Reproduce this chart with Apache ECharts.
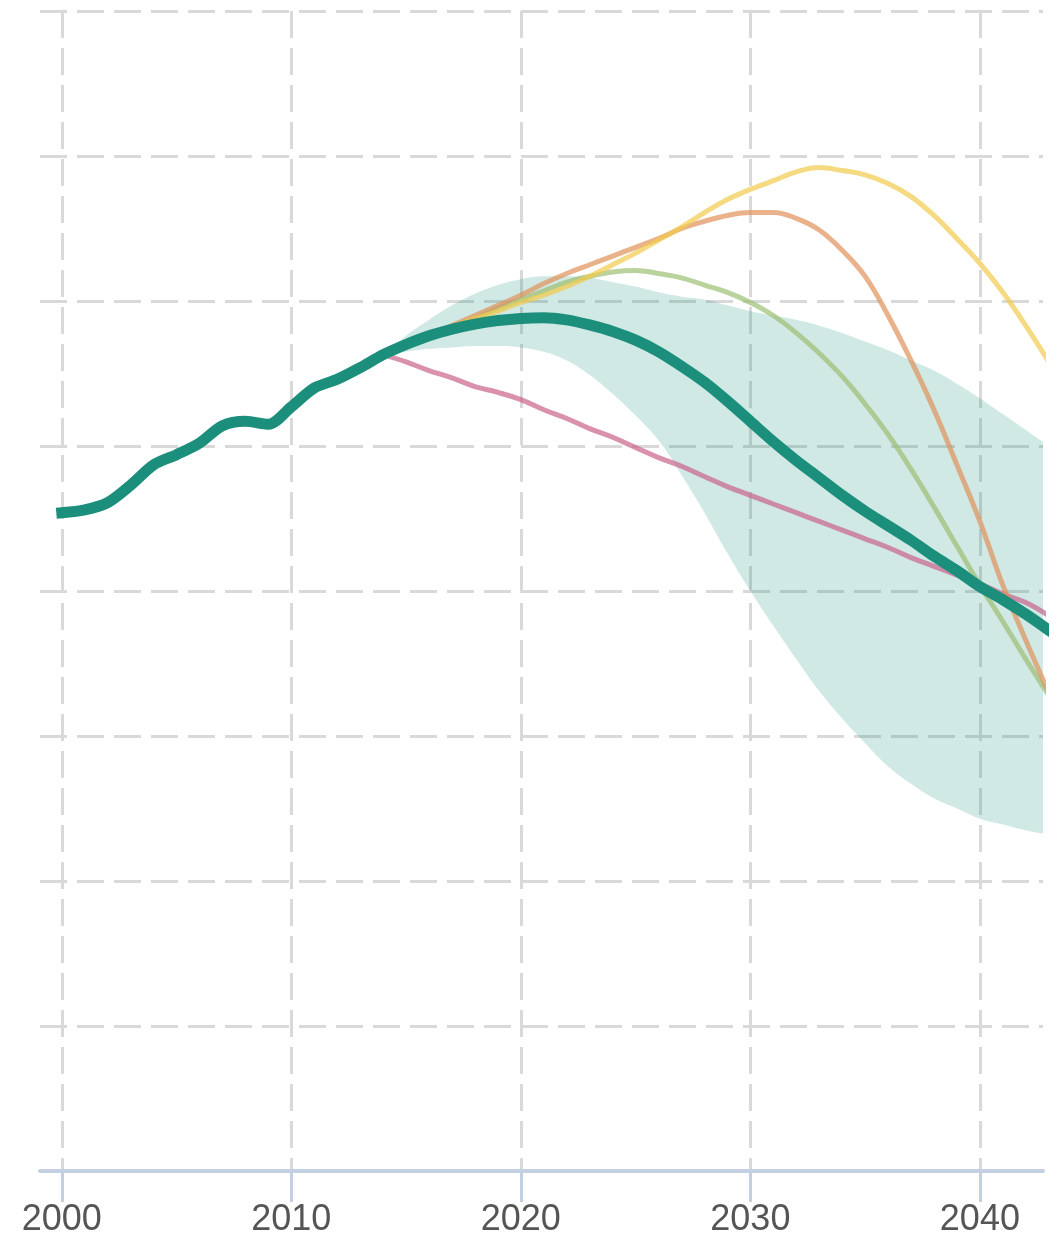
<!DOCTYPE html>
<html>
<head>
<meta charset="utf-8">
<title>Emissions pathways</title>
<script src="https://cdn.jsdelivr.net/npm/echarts@6/dist/echarts.min.js"></script>
<style>
    html, body { margin: 0; padding: 0; background: #fff; }
    #chart { width: 1059px; height: 1235px; }
</style>
</head>
<body>
<div id="chart"></div>
<script>
// years on the x axis
var years = [2000, 2001, 2002, 2003, 2004, 2005, 2006, 2007, 2008, 2009,
             2010, 2011, 2012, 2013, 2014, 2015, 2016, 2017, 2018, 2019,
             2020, 2021, 2022, 2023, 2024, 2025, 2026, 2027, 2028, 2029,
             2030, 2031, 2032, 2033, 2034, 2035, 2036, 2037, 2038, 2039,
             2040, 2041, 2042, 2043];
var xTicks = [2000, 2010, 2020, 2030, 2040];

// main pathway (history + median), from 2000
var mainLine = [45.4, 45.6, 46.1, 47.3, 48.7, 49.4, 50.2, 51.4, 51.7, 51.5,
                52.7, 54.0, 54.6, 55.4, 56.3, 57.0, 57.6, 58.05, 58.4, 58.65,
                58.8, 58.85, 58.7, 58.35, 57.9, 57.3, 56.5, 55.5, 54.4, 53.1,
                51.7, 50.3, 49.0, 47.8, 46.6, 45.5, 44.5, 43.5, 42.4, 41.4,
                40.3, 39.4, 38.4, 37.3];

// uncertainty band, from 2014
var bandLow  = [56.2, 56.5, 56.7, 56.8, 56.9, 56.9, 56.8, 56.5, 55.9, 54.9,
                53.6, 52.1, 50.4, 48.0, 45.4, 42.6, 40.0, 37.6, 35.3, 33.1,
                31.2, 29.5, 27.9, 26.7, 25.7, 25.0, 24.3, 23.9, 23.5, 23.2];
var bandHigh = [56.3, 57.6, 58.7, 59.7, 60.5, 61.1, 61.5, 61.7, 61.7, 61.6,
                61.3, 61.0, 60.6, 60.3, 60.1, 59.7, 59.3, 59.0, 58.7, 58.3,
                57.8, 57.2, 56.6, 55.9, 55.2, 54.3, 53.3, 52.2, 51.1, 50.0];

// scenario lines, from 2015 (pink from 2014)
var yellowLine = [57.0, 57.6, 58.2, 58.8, 59.3, 59.9, 60.4, 61.0, 61.7, 62.5,
                  63.3, 64.2, 65.1, 66.1, 67.0, 67.7, 68.3, 68.9, 69.2, 69.0,
                  68.7, 68.1, 67.2, 65.9, 64.3, 62.6, 60.6, 58.3, 55.8];
var orangeLine = [57.0, 57.6, 58.3, 59.0, 59.7, 60.4, 61.2, 61.9, 62.5, 63.1,
                  63.7, 64.3, 65.0, 65.5, 65.9, 66.1, 66.1, 65.7, 64.9, 63.5,
                  61.7, 59.0, 55.9, 52.5, 48.7, 44.8, 40.4, 36.6, 33.0];
var oliveLine  = [57.0, 57.6, 58.2, 58.8, 59.5, 60.1, 60.7, 61.3, 61.7, 62.0,
                  62.1, 61.9, 61.6, 61.1, 60.6, 59.9, 59.0, 57.8, 56.4, 54.8,
                  52.9, 50.8, 48.4, 45.8, 43.1, 40.4, 37.9, 35.3, 32.8];
var pinkLine   = [56.3, 55.8, 55.2, 54.7, 54.1, 53.7, 53.2, 52.5, 51.9, 51.2,
                  50.6, 49.9, 49.2, 48.6, 47.9, 47.2, 46.6, 46.0, 45.4, 44.8,
                  44.2, 43.6, 43.0, 42.3, 41.7, 41.1, 40.5, 39.8, 39.2, 38.3];

// [year, value] pairs
function pairs(startYear, values) {
    var k = years.indexOf(startYear);
    return values.map(function (v, i) { return [years[k + i], v]; });
}
// [value, year] pairs, so the stack adds up the values and not the years
function pairsVY(startYear, values) {
    var k = years.indexOf(startYear);
    return values.map(function (v, i) { return [v, years[k + i]]; });
}

var bandDiff = bandHigh.map(function (v, i) { return +(v - bandLow[i]).toFixed(2); });

var chart = echarts.init(document.getElementById('chart'));
var gridLine = { show: true, lineStyle: { color: '#d9d9d9', width: 3, type: [27, 10] } };

var option = {
    animation: false,
    grid: { left: 40, right: 16, top: 11, bottom: 64, outerBoundsMode: 'none', containLabel: false },
    xAxis: {
        type: 'value',
        min: 1999.05,
        max: 2042.75,
        axisLine: { show: true, lineStyle: { color: '#c3d0e1', width: 4 } },
        axisTick: { show: true, length: 31, lineStyle: { color: '#c3d0e1', width: 3 }, customValues: xTicks },
        axisLabel: {
            customValues: xTicks,
            margin: 31,
            color: '#555',
            fontSize: 36,
            fontFamily: 'Liberation Sans, Arial, sans-serif',
            formatter: function (v) { return String(v); }
        },
        splitLine: gridLine
    },
    yAxis: {
        type: 'value',
        min: 0,
        max: 80,
        interval: 10,
        axisLine: { show: false },
        axisTick: { show: false },
        axisLabel: { show: false },
        splitLine: gridLine
    },
    series: [
        {
            name: 'band-low', type: 'line', stack: 'band', smooth: 0.4,
            encode: { x: 1, y: 0 },
            data: pairsVY(2014, bandLow), symbol: 'none',
            lineStyle: { width: 0, opacity: 0 }, z: 1
        },
        {
            name: 'band', type: 'line', stack: 'band', smooth: 0.4,
            encode: { x: 1, y: 0 },
            data: pairsVY(2014, bandDiff), symbol: 'none',
            lineStyle: { width: 0, opacity: 0 },
            areaStyle: { color: 'rgba(27,143,124,0.2)', opacity: 1 }, z: 1
        },
        {
            name: 'pink', type: 'line', smooth: 0.4, symbol: 'none',
            data: pairs(2014, pinkLine),
            lineStyle: { color: '#c9628a', width: 5, opacity: 0.7 }, z: 2
        },
        {
            name: 'olive', type: 'line', smooth: 0.4, symbol: 'none',
            data: pairs(2015, oliveLine),
            lineStyle: { color: '#9cbf72', width: 5, opacity: 0.7 }, z: 2
        },
        {
            name: 'orange', type: 'line', smooth: 0.4, symbol: 'none',
            data: pairs(2015, orangeLine),
            lineStyle: { color: '#e0925a', width: 5, opacity: 0.7 }, z: 2
        },
        {
            name: 'yellow', type: 'line', smooth: 0.4, symbol: 'none',
            data: pairs(2015, yellowLine),
            lineStyle: { color: '#f2cb4c', width: 5, opacity: 0.7 }, z: 2
        },
        {
            name: 'main', type: 'line', smooth: 0.3, symbol: 'none',
            data: pairs(2000, mainLine),
            lineStyle: { color: '#1b8f7c', width: 11, cap: 'square' }, z: 3
        }
    ]
};

chart.setOption(option);
</script>
</body>
</html>
